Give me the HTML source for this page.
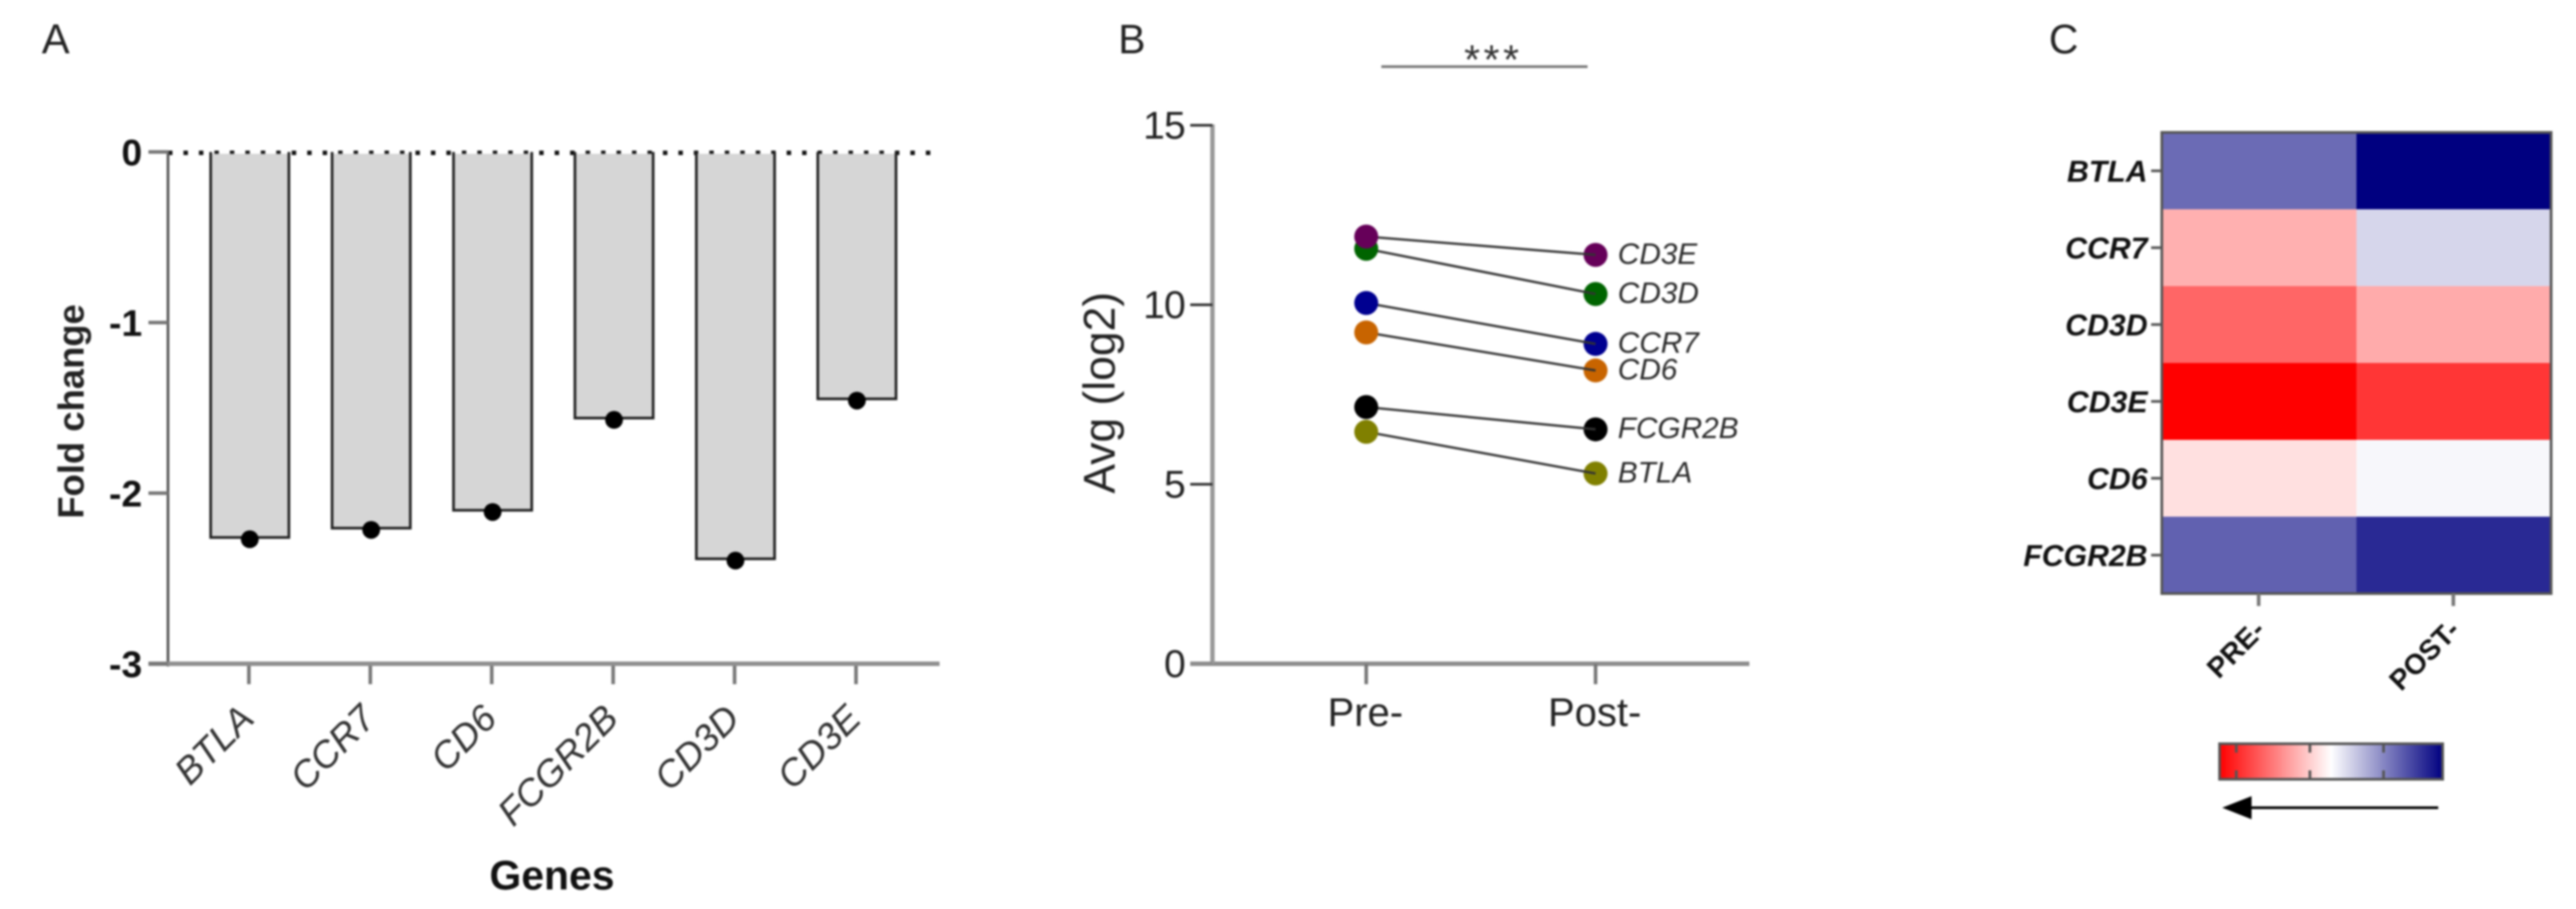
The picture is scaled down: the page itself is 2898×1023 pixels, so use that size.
<!DOCTYPE html>
<html lang="en">
<head>
<meta charset="utf-8">
<title>Gene expression panels</title>
<style>
html,body{margin:0;padding:0;background:#fff;}
body{width:2898px;height:1023px;overflow:hidden;}
svg{display:block;filter:blur(1px);}
text{font-family:"Liberation Sans",sans-serif;}
</style>
</head>
<body>
<svg id="fig" xmlns="http://www.w3.org/2000/svg" width="2898" height="1023" viewBox="0 0 2898 1023">
  <rect width="2898" height="1023" fill="#fff"/>
  <text x="47" y="60" font-size="47" fill="#222">A</text>
  <text x="1258" y="60" font-size="46" fill="#222">B</text>
  <text x="2305" y="60" font-size="46" fill="#222">C</text>
  <g id="panelA"></g>
  <g id="panelB"></g>
  <g id="panelC"></g>
</svg>
<script>
// Panel A data
const barGenes = ['BTLA', 'CCR7', 'CD6', 'FCGR2B', 'CD3D', 'CD3E'];
const foldChange = [-2.26, -2.205, -2.10, -1.56, -2.385, -1.447];
const foldTicks = [0, -1, -2, -3];

// Panel B data
const slopeGenes = ['BTLA', 'FCGR2B', 'CD6', 'CCR7', 'CD3D', 'CD3E'];
const slopeColors = ['#808000', '#000000', '#c86400', '#000090', '#006400', '#660059'];
const preValues = [6.46, 7.15, 9.23, 10.05, 11.56, 11.9];
const postValues = [5.3, 6.53, 8.17, 8.91, 10.3, 11.39];
const avgTicks = [0, 5, 10, 15];
const timepoints = ['Pre-', 'Post-'];

// Panel C data
const heatGenes = ['BTLA', 'CCR7', 'CD3D', 'CD3E', 'CD6', 'FCGR2B'];
const heatColumns = ['PRE-', 'POST-'];
const heatPre = [0.58, -0.31, -0.6, -1, -0.12, 0.62];
const heatPost = [1, 0.16, -0.33, -0.79, 0.03, 0.84];
const legendTicks = [-0.85, -0.19, 0.47];

const NS = 'http://www.w3.org/2000/svg';
function mk(parent, tag, props, txt) {
  const el = document.createElementNS(NS, tag);
  for (const k in props) el.setAttribute(k, props[k]);
  if (txt !== undefined) el.textContent = txt;
  parent.appendChild(el);
  return el;
}

// ---------- Panel A ----------
const A = document.getElementById('panelA');
const aY = v => 171 + (0 - v) * 192;
const aX = i => 280 + i * 136.6;
const barHalf = 44;

let dotted = mk(A, 'line', {x1: 189, y1: 172, x2: 1047, y2: 172, stroke: '#111', 'stroke-width': 5, 'stroke-dasharray': '5 12.4'});



foldChange.forEach((v, i) => {
  const cx = aX(i) + 1;
  const fill = mk(A, 'rect', {x: cx - barHalf, y: aY(0) + 2, width: barHalf * 2, height: aY(v) - aY(0) - 2, fill: '#d3d3d3', opacity: 0.93});
  
  
  const edge = mk(A, 'path', {d: 'M' + (cx - barHalf) + ' ' + aY(0) + 'V' + aY(v) + 'H' + (cx + barHalf) + 'V' + aY(0), fill: 'none', stroke: '#222', 'stroke-width': 3});
  
  
  const dot = mk(A, 'circle', {cx: cx, cy: aY(v) + 2, r: 10, fill: '#000'});
  
  
  const tick = mk(A, 'line', {x1: aX(i), y1: 747, x2: aX(i), y2: 770, stroke: '#777', 'stroke-width': 4});
  
  
  const px = aX(i) + 8, py = 811;
  const label = mk(A, 'text', {x: px, y: py, 'font-size': 42, 'font-style': 'italic', fill: '#333', 'text-anchor': 'end', transform: 'rotate(-45 ' + px + ' ' + py + ')'}, barGenes[i]);
  
  
});

let aAxisY = mk(A, 'line', {x1: 189, y1: 170, x2: 189, y2: 750, stroke: '#555', 'stroke-width': 3});


let aAxisX = mk(A, 'line', {x1: 167, y1: 747, x2: 1057, y2: 747, stroke: '#8f8f8f', 'stroke-width': 5});



foldTicks.forEach(t => {
  const y = t === -3 ? 747 : aY(t);
  const tk = mk(A, 'line', {x1: 167, y1: y, x2: 189, y2: y, stroke: '#777', 'stroke-width': 4});
  
  
  const lb = mk(A, 'text', {x: 160, y: y + 15, 'font-size': 42, 'font-weight': 'bold', fill: '#111', 'text-anchor': 'end'}, String(t));
  
  
});

let aYT = mk(A, 'text', {x: 94, y: 463, 'font-size': 41, 'font-weight': 'bold', fill: '#222', 'text-anchor': 'middle', transform: 'rotate(-90 94 463)'}, 'Fold change');


let aXT = mk(A, 'text', {x: 621, y: 1001, 'font-size': 46, 'font-weight': 'bold', fill: '#111', 'text-anchor': 'middle'}, 'Genes');



// ---------- Panel B ----------
const B = document.getElementById('panelB');
const bY = v => 747 - v * (606 / 15);
const bX = i => 1537 + i * 258;

let bAxisX = mk(B, 'line', {x1: 1339, y1: 747, x2: 1968, y2: 747, stroke: '#8c8c8c', 'stroke-width': 5});


let bAxisY = mk(B, 'line', {x1: 1364, y1: 140, x2: 1364, y2: 747, stroke: '#999', 'stroke-width': 5});



avgTicks.forEach(t => {
  const y = bY(t);
  const tk = mk(B, 'line', {x1: 1339, y1: y, x2: 1364, y2: y, stroke: t === 0 ? '#8c8c8c' : '#333', 'stroke-width': t === 0 ? 5 : 3});
  
  
  const lb = mk(B, 'text', {x: 1333, y: y + 15, 'font-size': 44, fill: '#222', 'text-anchor': 'end', 'letter-spacing': '-1'}, String(t));
  
  
});

timepoints.forEach((t, i) => {
  const tk = mk(B, 'line', {x1: bX(i), y1: 747, x2: bX(i), y2: 770, stroke: '#777', 'stroke-width': 4});
  
  
  const lb = mk(B, 'text', {x: bX(i) - 1, y: 817, 'font-size': 45, fill: '#222', 'text-anchor': 'middle'}, t);
  
  
});

let bYT = mk(B, 'text', {x: 1254, y: 442, 'font-size': 50, fill: '#222', 'text-anchor': 'middle', transform: 'rotate(-90 1254 442)'}, 'Avg (log2)');



let sigLine = mk(B, 'line', {x1: 1554, y1: 75, x2: 1786, y2: 75, stroke: '#777', 'stroke-width': 3});


let sigStars = mk(B, 'text', {x: 1680, y: 83, 'font-size': 46, fill: '#333', 'text-anchor': 'middle', 'letter-spacing': '4'}, '***');



slopeGenes.forEach((g, i) => {
  const post = mk(B, 'circle', {cx: bX(1), cy: bY(postValues[i]), r: 13.5, fill: slopeColors[i]});
  
  
  const line = mk(B, 'line', {x1: bX(0), y1: bY(preValues[i]), x2: bX(1), y2: bY(postValues[i]), stroke: '#333', 'stroke-width': 2.6});
  
  
  const lb = mk(B, 'text', {x: 1820, y: bY(postValues[i]) + 10, 'font-size': 33.5, 'font-style': 'italic', fill: '#2a2a2a'}, g);
  
  
});
slopeGenes.forEach((g, i) => {
  const pre = mk(B, 'circle', {cx: bX(0), cy: bY(preValues[i]), r: 13.5, fill: slopeColors[i]});
  
  
});

// ---------- Panel C ----------
const C = document.getElementById('panelC');
const hLeft = 2432, hTop = 149, cellW = 219, cellH = 86.5;
function heatColor(v) {
  const t = Math.min(1, Math.abs(v));
  if (v < 0) {
    const c = Math.round(255 * (1 - t));
    return 'rgb(255,' + c + ',' + c + ')';
  }
  const c = Math.round(255 * (1 - t));
  return 'rgb(' + c + ',' + c + ',' + Math.round(255 - 127 * t) + ')';
}
[heatPre, heatPost].forEach((series, col) => {
  series.forEach((v, row) => {
    const cell = mk(C, 'rect', {x: hLeft + col * cellW, y: hTop + row * cellH, width: cellW + 0.5, height: cellH + 0.5, fill: heatColor(v)});
    
    
  });
});
let hFrame = mk(C, 'rect', {x: hLeft, y: hTop, width: 438, height: 519, fill: 'none', stroke: '#555', 'stroke-width': 3});



heatGenes.forEach((g, row) => {
  const y = hTop + (row + 0.5) * cellH;
  const tk = mk(C, 'line', {x1: 2420, y1: y, x2: hLeft, y2: y, stroke: '#555', 'stroke-width': 3});
  
  
  const lb = mk(C, 'text', {x: 2416, y: y + 12, 'font-size': 34, 'font-weight': 'bold', 'font-style': 'italic', fill: '#111', 'text-anchor': 'end'}, g);
  
  
});
heatColumns.forEach((c, col) => {
  const x = hLeft + (col + 0.5) * cellW - 0.5;
  const tk = mk(C, 'line', {x1: x, y1: 668, x2: x, y2: 682, stroke: '#777', 'stroke-width': 4});
  
  
  const px = x + 9, py = 711;
  const lb = mk(C, 'text', {x: px, y: py, 'font-size': 32, 'font-weight': 'bold', fill: '#111', 'text-anchor': 'end', transform: 'rotate(-45 ' + px + ' ' + py + ')'}, c);
  
  
});

// Legend
const defs = mk(C, 'defs', {});
const grad = mk(defs, 'linearGradient', {id: 'legendGrad', x1: 0, x2: 1, y1: 0, y2: 0});
mk(grad, 'stop', {offset: '0', 'stop-color': '#ff0000'});
mk(grad, 'stop', {offset: '0.5', 'stop-color': '#ffffff'});
mk(grad, 'stop', {offset: '1', 'stop-color': '#000080'});
const lgX = v => 2622.5 + v * 125.5;
let lgBar = mk(C, 'rect', {x: 2497, y: 837, width: 251, height: 40, fill: 'url(#legendGrad)', stroke: '#555', 'stroke-width': 3});


legendTicks.forEach(v => {
  const top = mk(C, 'line', {x1: lgX(v), y1: 837, x2: lgX(v), y2: 847, stroke: '#555', 'stroke-width': 3});
  
  
  const bottom = mk(C, 'line', {x1: lgX(v), y1: 867, x2: lgX(v), y2: 877, stroke: '#555', 'stroke-width': 3});
  
  
});
let arrowLine = mk(C, 'line', {x1: 2530, y1: 909, x2: 2743, y2: 909, stroke: '#000', 'stroke-width': 3});


let arrowHead = mk(C, 'polygon', {points: '2500,909 2533,896 2533,922', fill: '#000'});


</script>
</body>
</html>
